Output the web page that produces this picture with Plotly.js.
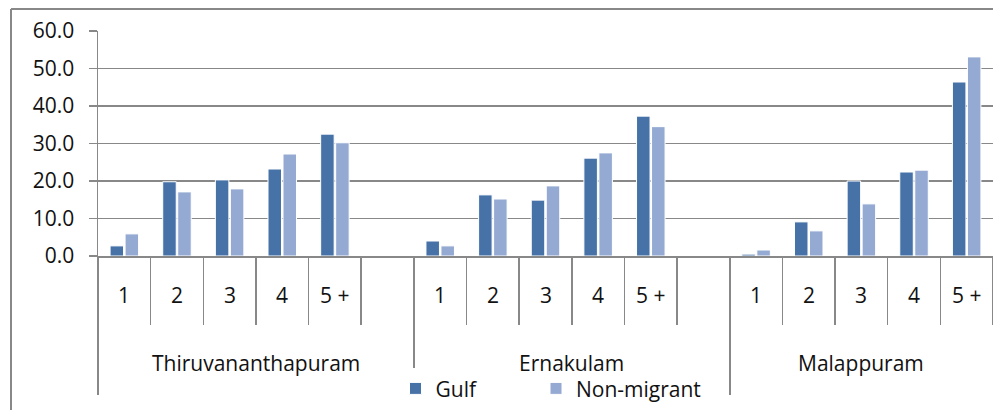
<!DOCTYPE html>
<html>
<head>
<meta charset="utf-8">
<script src="https://cdn.plot.ly/plotly-3.0.1.min.js"></script>
<style>html,body{margin:0;padding:0;background:#fff;}#chart{width:993px;height:410px;}</style>
</head>
<body>
<div id="chart"></div>
<script>
const districts = ["Thiruvananthapuram", "Ernakulam", "Malappuram"];
const sizeLabels = ["1", "2", "3", "4", "5 +"];
const gulfThiru = [2.7, 19.8, 20.3, 23.2, 32.5];
const gulfErna = [4.0, 16.3, 14.9, 26.1, 37.3];
const gulfMala = [0.5, 9.1, 20.0, 22.4, 46.4];
const nonMigrantThiru = [5.9, 17.1, 17.9, 27.2, 30.2];
const nonMigrantErna = [2.7, 15.2, 18.7, 27.5, 34.5];
const nonMigrantMala = [1.6, 6.7, 13.9, 22.9, 53.1];
const yTicks = [0, 10, 20, 30, 40, 50, 60];

const slotsPerGroup = sizeLabels.length + 1;
const gulfAll = [gulfThiru, gulfErna, gulfMala];
const nmAll = [nonMigrantThiru, nonMigrantErna, nonMigrantMala];

function flatX() {
  const xs = [];
  districts.forEach((d, g) => sizeLabels.forEach((s, i) => xs.push(g * slotsPerGroup + i)));
  return xs;
}
const xs = flatX();
const gulfY = [].concat(...gulfAll);
const nmY = [].concat(...nmAll);

const font = "'Open Sans', 'Liberation Sans', Arial, sans-serif";
const txt = "#111111";
const grey = "#888888";

const traces = [
  {type: "bar", name: "Gulf", x: xs, y: gulfY, legend: "legend",
   marker: {color: "#4672A8", line: {color: "#ffffff", width: 1}}},
  {type: "bar", name: "Non-migrant", x: xs, y: nmY, legend: "legend2",
   marker: {color: "#95AAD3", line: {color: "#ffffff", width: 1}}}
];

const nSlots = districts.length * slotsPerGroup - 1;
const xMin = -0.5, xMax = nSlots - 0.5;

const groupBounds = [];
const innerBounds = [];
for (let b = 0; b <= nSlots; b++) {
  const v = b - 0.5;
  if (b % slotsPerGroup === 0) groupBounds.push(v); else innerBounds.push(v);
}

const annotations = [];
districts.forEach((d, g) => {
  sizeLabels.forEach((s, i) => {
    annotations.push({x: g * slotsPerGroup + i, xref: "x", y: -0.173, yref: "paper",
      text: s, showarrow: false, xanchor: "center", yanchor: "middle",
      font: {family: font, size: 21, color: txt}});
  });
  const start = g * slotsPerGroup - 0.5;
  const end = Math.min(start + slotsPerGroup, xMax);
  annotations.push({x: (start + end) / 2, xref: "x", y: -0.475, yref: "paper",
    text: d, showarrow: false, xanchor: "center", yanchor: "middle",
    font: {family: font, size: 21, color: txt}});
});

const legendBase = {orientation: "h", xanchor: "left", y: -0.59, yanchor: "middle",
  bgcolor: "rgba(255,255,255,1)", font: {family: font, size: 21, color: txt}};

const layout = {
  width: 993, height: 410,
  margin: {l: 98, r: 0, t: 31, b: 154, pad: 0},
  paper_bgcolor: "#ffffff", plot_bgcolor: "#ffffff",
  barmode: "group", bargap: 0.43, bargroupgap: 0.1,
  showlegend: true,
  legend: Object.assign({}, legendBase, {x: 0.3324}),
  legend2: Object.assign({}, legendBase, {x: 0.4894}),
  xaxis: {range: [xMin, xMax], showgrid: false, zeroline: false,
    showline: true, linecolor: grey, linewidth: 1.5,
    tickmode: "array", tickvals: groupBounds, showticklabels: false,
    ticks: "outside", ticklen: 137, tickcolor: grey, tickwidth: 1.5,
    minor: {tickmode: "array", tickvals: innerBounds, ticks: "outside", ticklen: 67,
      tickcolor: grey, tickwidth: 1.5, showgrid: false},
    fixedrange: true},
  yaxis: {range: [0, 60], tickmode: "array", tickvals: yTicks,
    ticktext: yTicks.map(v => v.toFixed(1)),
    showgrid: true, gridcolor: grey, gridwidth: 1.5, zeroline: false,
    showline: true, linecolor: grey, linewidth: 1.5,
    ticks: "outside", ticklen: 8, tickcolor: grey, tickwidth: 1.5,
    ticklabelstandoff: 10,
    tickfont: {family: font, size: 21, color: txt}, fixedrange: true},
  annotations: annotations,
  shapes: [
    {type: "line", xref: "paper", yref: "paper", x0: -0.0972, x1: -0.0972, y0: 1.098, y1: -0.75,
      line: {color: grey, width: 2}},
    {type: "line", xref: "paper", yref: "paper", x0: -0.0972, x1: 1.0, y0: 1.098, y1: 1.098,
      line: {color: grey, width: 2}}
  ]
};

Plotly.newPlot("chart", traces, layout, {displayModeBar: false, staticPlot: true});
</script>
</body>
</html>
